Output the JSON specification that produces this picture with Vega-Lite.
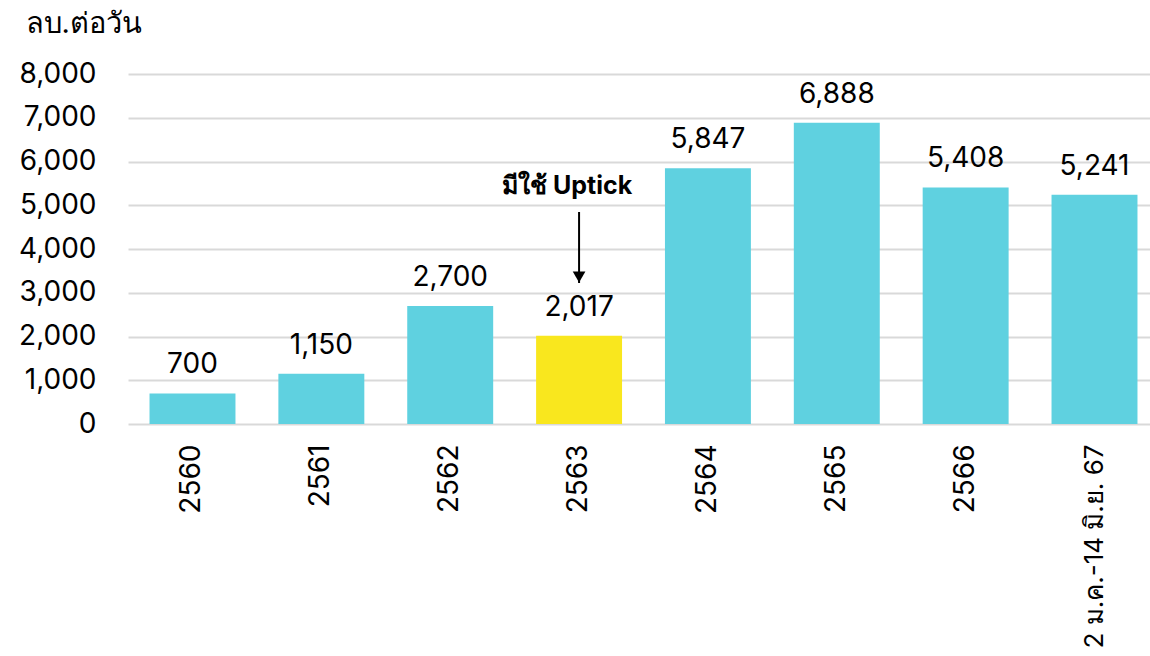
{
  "$schema": "https://vega.github.io/schema/vega-lite/v6.json",
  "width": 1031,
  "height": 350,
  "autosize": {"type": "none"},
  "padding": {"left": 128, "top": 74, "right": 0, "bottom": 232},
  "background": "white",
  "config": {
    "view": {"stroke": null},
    "font": "Inter",
    "axis": {"labelFont": "Inter", "titleFont": "Inter"}
  },
  "datasets": {
    "bars": [
      {"period": "2560", "value": 700, "label": "700", "hl": "no"},
      {"period": "2561", "value": 1150, "label": "1,150", "hl": "no"},
      {"period": "2562", "value": 2700, "label": "2,700", "hl": "no"},
      {"period": "2563", "value": 2017, "label": "2,017", "hl": "yes"},
      {"period": "2564", "value": 5847, "label": "5,847", "hl": "no"},
      {"period": "2565", "value": 6888, "label": "6,888", "hl": "no"},
      {"period": "2566", "value": 5408, "label": "5,408", "hl": "no"},
      {"period": "2 ม.ค.-14 มิ.ย. 67", "value": 5241, "label": "5,241", "hl": "no"}
    ],
    "note": [
      {"period": "2563", "text": "มีใช้ Uptick", "ty": 5440, "top": 4846, "tip": 3223}
    ]
  },
  "encoding": {
    "x": {
      "field": "period",
      "type": "nominal",
      "sort": null,
      "scale": {"paddingInner": 0.333, "paddingOuter": 0.167},
      "axis": {
        "title": null,
        "labelAngle": 270,
        "labelFontSize": {"condition": {"test": "length(datum.value) > 6", "value": 26}, "value": 28},
        "labelColor": "#000000",
        "ticks": false,
        "domain": false,
        "labelPadding": 20,
        "labelLimit": 300
      }
    }
  },
  "layer": [
    {
      "data": {"name": "bars"},
      "mark": {"type": "bar"},
      "encoding": {
        "y": {
          "field": "value",
          "type": "quantitative",
          "scale": {"domain": [0, 8000]},
          "axis": {
            "title": "ลบ.ต่อวัน",
            "titleAngle": 0,
            "titleAnchor": "end",
            "titleAlign": "left",
            "titleBaseline": "alphabetic",
            "titleX": -103,
            "titleY": -42,
            "titleFontSize": 29,
            "titleFontWeight": "normal",
            "titleColor": "#000000",
            "values": [0, 1000, 2000, 3000, 4000, 5000, 6000, 7000, 8000],
            "format": ",d",
            "labelFontSize": 28,
            "labelColor": "#000000",
            "labelPadding": 32,
            "ticks": false,
            "domain": false,
            "grid": true,
            "gridColor": "#d9d9d9",
            "gridWidth": 2
          }
        },
        "color": {
          "field": "hl",
          "type": "nominal",
          "scale": {"domain": ["no", "yes"], "range": ["#5fd1e0", "#f9e71e"]},
          "legend": null
        }
      }
    },
    {
      "data": {"name": "bars"},
      "mark": {"type": "text", "baseline": "alphabetic", "dy": -20, "fontSize": 28, "color": "#000000"},
      "encoding": {
        "y": {"field": "value", "type": "quantitative"},
        "text": {"field": "label"}
      }
    },
    {
      "data": {"name": "note"},
      "mark": {"type": "text", "fontSize": 25, "fontWeight": "bold", "color": "#000000", "dx": -12, "baseline": "middle"},
      "encoding": {
        "y": {"field": "ty", "type": "quantitative"},
        "text": {"field": "text"}
      }
    },
    {
      "data": {"name": "note"},
      "mark": {"type": "rule", "strokeWidth": 2, "color": "#000000"},
      "encoding": {
        "y": {"field": "top", "type": "quantitative"},
        "y2": {"field": "tip"}
      }
    },
    {
      "data": {"name": "note"},
      "mark": {"type": "point", "shape": "triangle-down", "filled": true, "size": 160, "color": "#000000", "opacity": 1, "yOffset": -6},
      "encoding": {
        "y": {"field": "tip", "type": "quantitative"}
      }
    }
  ]
}
